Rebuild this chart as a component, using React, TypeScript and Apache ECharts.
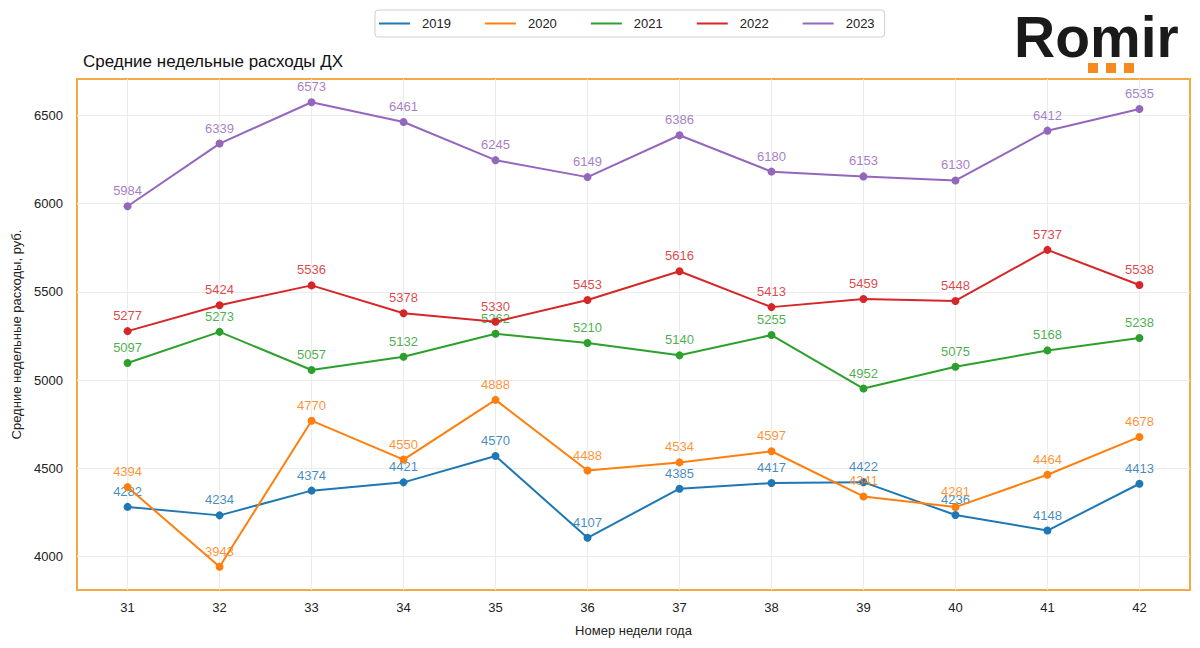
import React, { useEffect, useRef } from "react";
import * as echarts from "echarts";

const weeks = [31, 32, 33, 34, 35, 36, 37, 38, 39, 40, 41, 42];
const yearNames = ["2019", "2020", "2021", "2022", "2023"];
const v2019 = [4282, 4234, 4374, 4421, 4570, 4107, 4385, 4417, 4422, 4236, 4148, 4413];
const v2020 = [4394, 3943, 4770, 4550, 4888, 4488, 4534, 4597, 4341, 4281, 4464, 4678];
const v2021 = [5097, 5273, 5057, 5132, 5262, 5210, 5140, 5255, 4952, 5075, 5168, 5238];
const v2022 = [5277, 5424, 5536, 5378, 5330, 5453, 5616, 5413, 5459, 5448, 5737, 5538];
const v2023 = [5984, 6339, 6573, 6461, 6245, 6149, 6386, 6180, 6153, 6130, 6412, 6535];
const yTicks = [4000, 4500, 5000, 5500, 6000, 6500];
const colors = ["#1f77b4", "#ff7f0e", "#2ca02c", "#d62728", "#9467bd"];

const titleText = "Средние недельные расходы ДХ";
const yName = "Средние недельные расходы, руб.";
const xName = "Номер недели года";

export default function App() {
  const ref = useRef<HTMLDivElement>(null);
  useEffect(() => {
    if (!ref.current) return;
    const chart = echarts.init(ref.current, null, { renderer: "svg" });
    const all = [v2019, v2020, v2021, v2022, v2023];
    const font = "'Liberation Sans', Arial, sans-serif";
    chart.setOption({
      animation: false,
      backgroundColor: "#ffffff",
      textStyle: { fontFamily: font },
      title: {
        text: titleText,
        left: 78,
        top: 48,
        textStyle: { fontSize: 17, fontWeight: "normal", color: "#111", fontFamily: font },
      },
      legend: {
        data: yearNames,
        left: 375,
        top: 10,
        padding: [7, 10, 7, 4],
        itemGap: 34,
        itemWidth: 31,
        itemHeight: 2,
        icon: "rect",
        borderColor: "#cfcfcf",
        borderWidth: 1,
        borderRadius: 3,
        textStyle: { fontSize: 13, color: "#222", padding: [0, 0, 0, 7], fontFamily: font },
      },
      grid: {
        left: 77,
        top: 79,
        width: 1113,
        height: 511,
        show: true,
        borderColor: "#f2a946",
        borderWidth: 2,
        containLabel: false,
      },
      xAxis: {
        type: "value",
        min: 30.45,
        max: 42.55,
        name: xName,
        nameLocation: "middle",
        nameGap: 34,
        nameTextStyle: { fontSize: 13, color: "#222" },
        axisLine: { show: false },
        axisTick: { show: false, customValues: weeks },
        axisLabel: { customValues: weeks, fontSize: 13, color: "#222", margin: 11 },
        splitLine: { show: true, lineStyle: { color: "#ececec", width: 1 } },
      },
      yAxis: {
        type: "value",
        min: 3811.5,
        max: 6704.5,
        name: yName,
        nameLocation: "middle",
        nameGap: 53,
        nameTextStyle: { fontSize: 13, color: "#222" },
        axisLine: { show: false },
        axisTick: { show: false, customValues: yTicks },
        axisLabel: {
          customValues: yTicks,
          fontSize: 13,
          color: "#222",
          margin: 14,
          formatter: (v: number) => String(Math.round(v)),
        },
        splitLine: { show: true, lineStyle: { color: "#ececec", width: 1 } },
      },
      graphic: [
        {
          type: "text",
          left: 1014,
          top: 8,
          style: {
            text: "Romir",
            fontSize: 57,
            fontWeight: "bold",
            fontFamily: font,
            fill: "#1a1a1a",
          },
        },
        { type: "rect", shape: { x: 1088, y: 63, width: 10, height: 10 }, style: { fill: "#f58a1f" } },
        { type: "rect", shape: { x: 1106, y: 63, width: 10, height: 10 }, style: { fill: "#f58a1f" } },
        { type: "rect", shape: { x: 1124, y: 63, width: 10, height: 10 }, style: { fill: "#f58a1f" } },
      ],
      series: yearNames.map((name, i) => ({
        name,
        type: "line",
        data: weeks.map((w, j) => [w, all[i][j]]),
        symbol: "circle",
        symbolSize: 8,
        color: colors[i],
        lineStyle: { width: 2, color: colors[i] },
        itemStyle: { color: colors[i] },
        label: {
          show: true,
          position: "top",
          distance: 5,
          fontSize: 13,
          color: colors[i],
          opacity: 0.85,
          formatter: (p: any) => String(p.value[1]),
        },
        z: 2 + i,
      })),
    });
    return () => chart.dispose();
  }, []);
  return (
    <div
      ref={ref}
      style={{ position: "fixed", left: 0, top: 0, width: 1200, height: 648, background: "#fff" }}
    />
  );
}
